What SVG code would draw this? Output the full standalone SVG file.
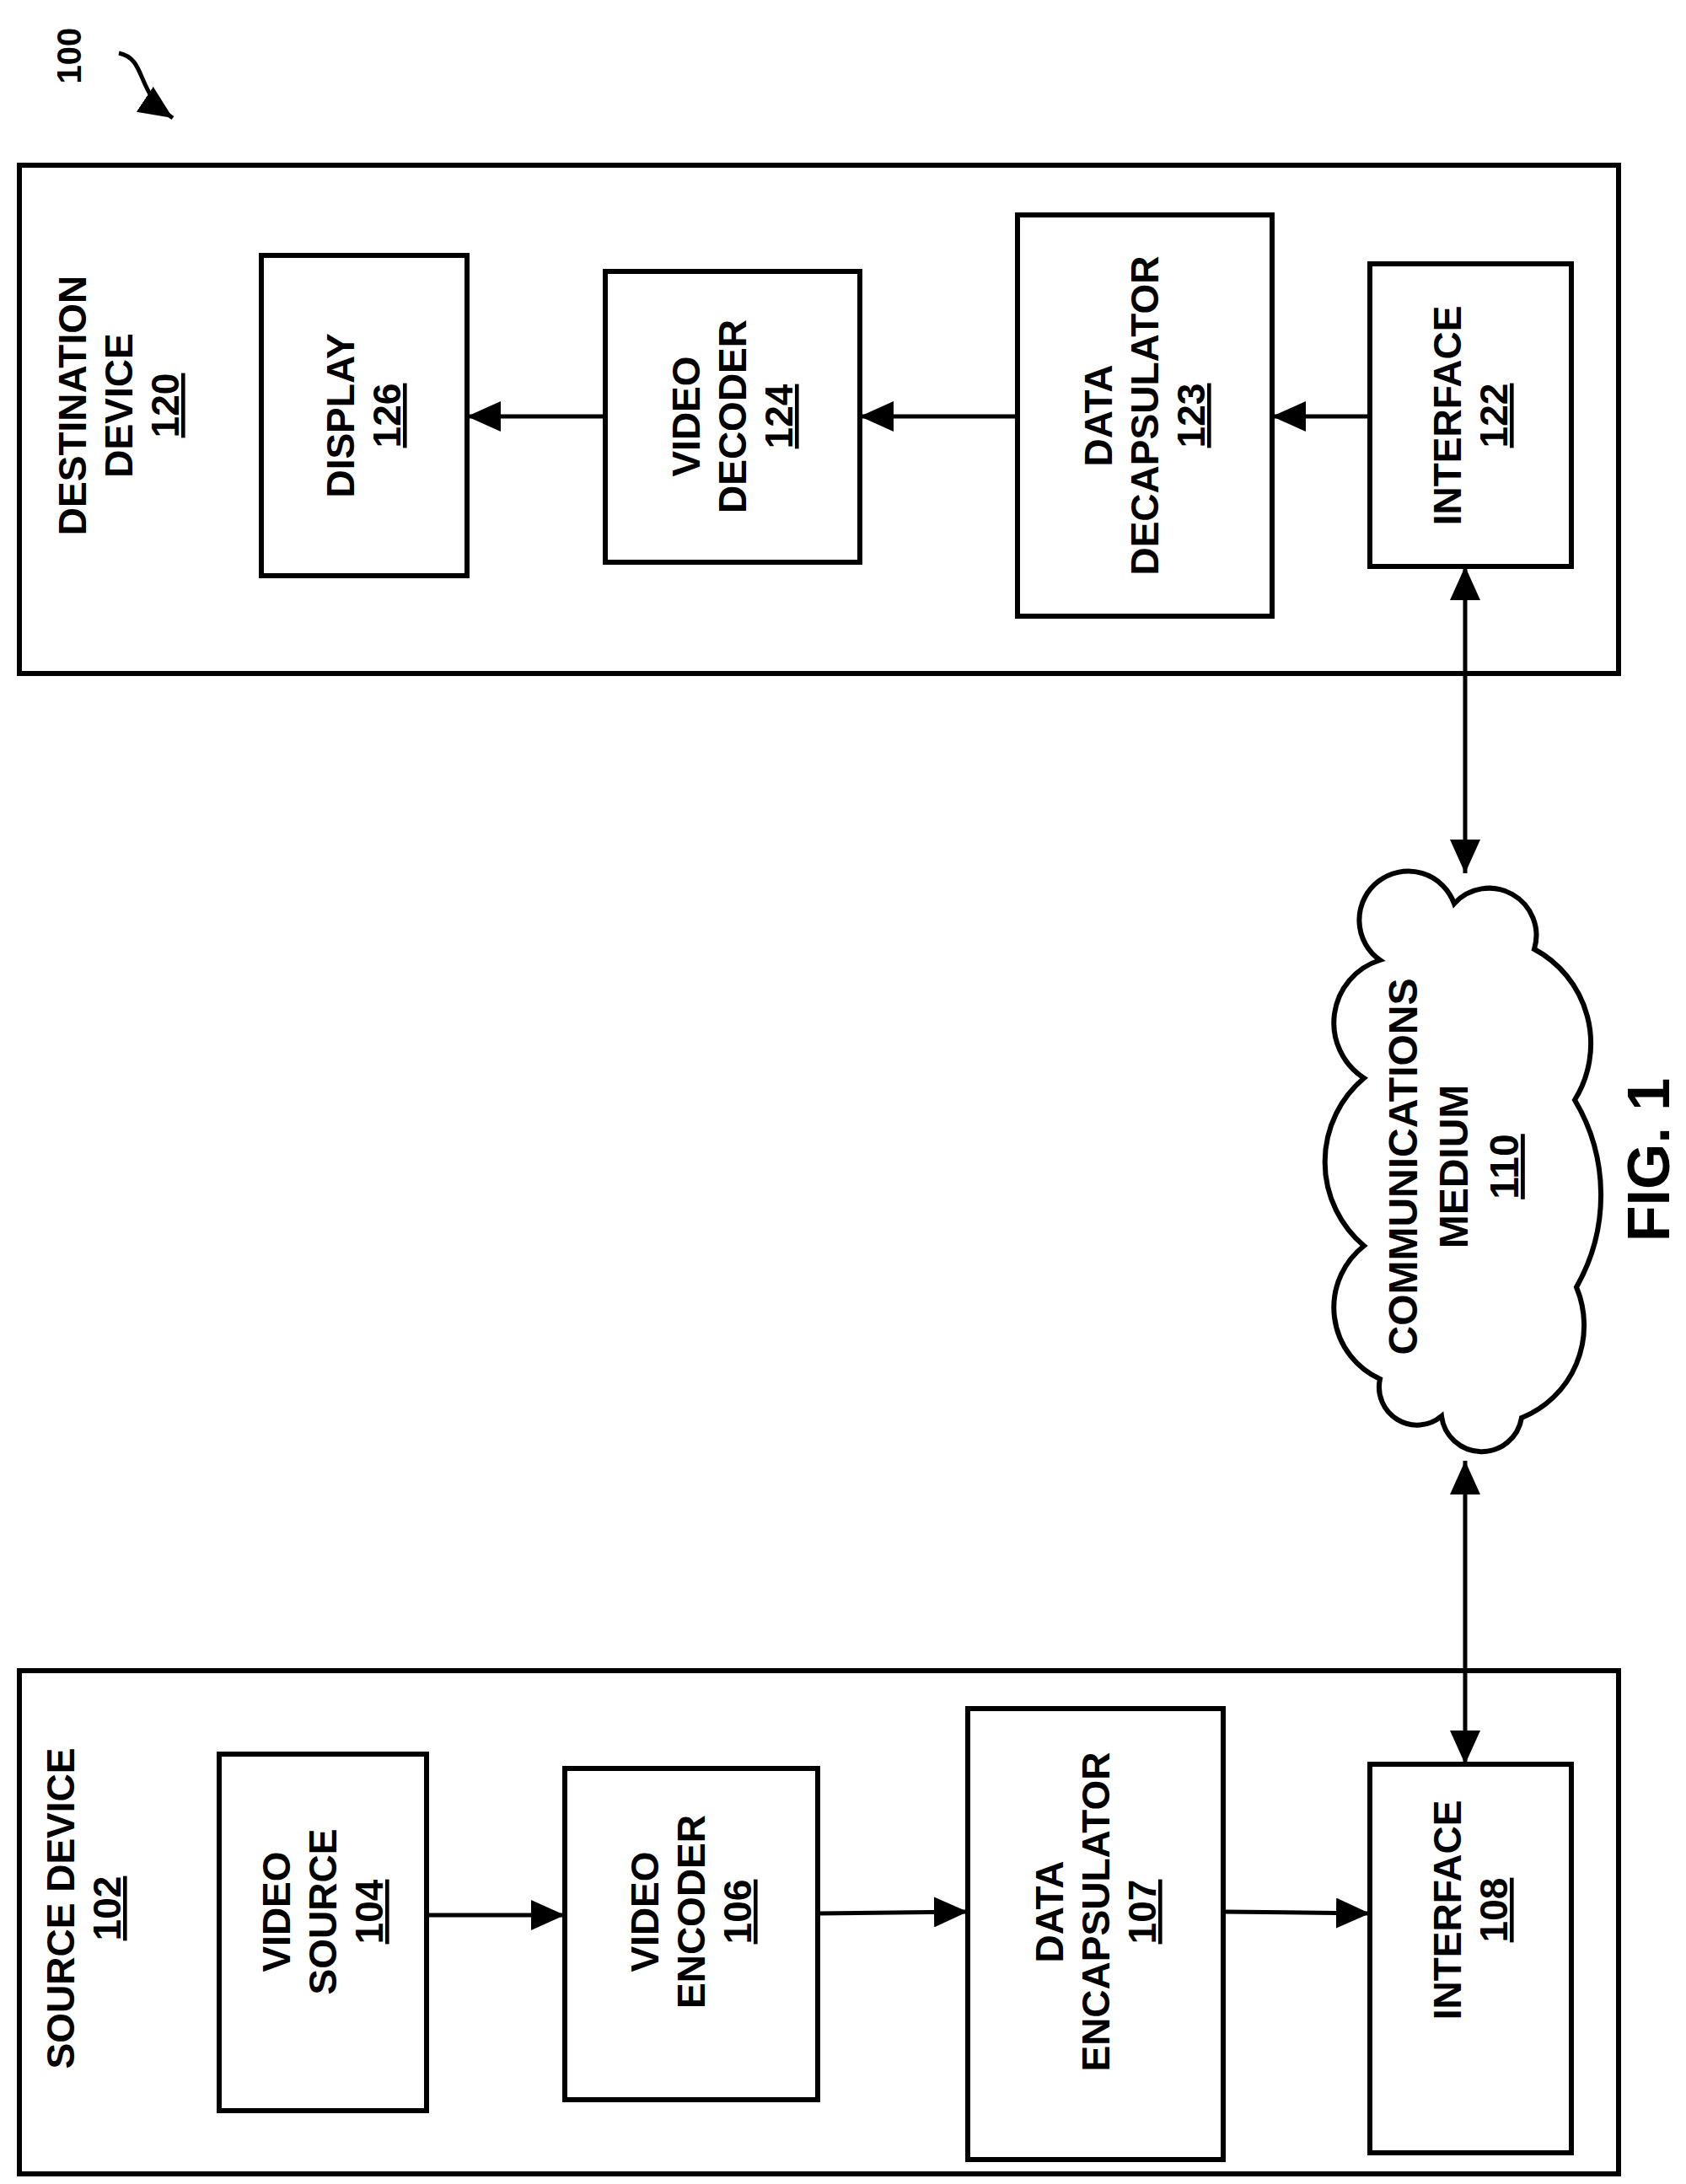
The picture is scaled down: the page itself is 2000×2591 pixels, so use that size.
<svg xmlns="http://www.w3.org/2000/svg" width="2000" height="2591" viewBox="0 0 2000 2591">
<style>
.box{fill:#fff;stroke:#000;stroke-width:6}
.t{font-family:"Liberation Sans",Arial,sans-serif;font-weight:bold;font-size:46px;text-anchor:middle;fill:#000}
.c{stroke:#000;stroke-width:5;fill:none}
</style>
<defs>
<marker id="a" viewBox="0 0 40 36" refX="40" refY="18" markerWidth="40" markerHeight="36" orient="auto-start-reverse" markerUnits="userSpaceOnUse">
<path d="M0,0 L40,18 L0,36 z" fill="#000"/>
</marker>
</defs>
<g id="ref100">
<text class="t" transform="translate(96,66) rotate(-90)" style="font-size:40px">100</text>
<path class="c" d="M141,63 C175,70 160,110 205,140" stroke-width="4" marker-end="url(#a)"/>
</g>
<g id="dest120">
<rect class="box" x="23" y="196" width="1897" height="603"/>
<text class="t" transform="translate(141,481) rotate(-90)"><tspan x="0" y="-39">DESTINATION</tspan><tspan x="0" dy="55">DEVICE</tspan><tspan x="0" dy="55" text-decoration="underline">120</tspan></text>
</g>
<g id="display126">
<rect class="box" x="310" y="303" width="244" height="380"/>
<text class="t" transform="translate(432,493) rotate(-90)"><tspan x="0" y="-12">DISPLAY</tspan><tspan x="0" dy="55" text-decoration="underline">126</tspan></text>
</g>
<g id="decoder124">
<rect class="box" x="718" y="322" width="302" height="345"/>
<text class="t" transform="translate(869,494) rotate(-90)"><tspan x="0" y="-39">VIDEO</tspan><tspan x="0" dy="55">DECODER</tspan><tspan x="0" dy="55" text-decoration="underline">124</tspan></text>
</g>
<g id="decap123">
<rect class="box" x="1207" y="255" width="302" height="476"/>
<text class="t" transform="translate(1358,493) rotate(-90)"><tspan x="0" y="-39">DATA</tspan><tspan x="0" dy="55">DECAPSULATOR</tspan><tspan x="0" dy="55" text-decoration="underline">123</tspan></text>
</g>
<g id="iface122">
<rect class="box" x="1625" y="313" width="239" height="359"/>
<text class="t" transform="translate(1745,493) rotate(-90)"><tspan x="0" y="-12">INTERFACE</tspan><tspan x="0" dy="55" text-decoration="underline">122</tspan></text>
</g>
<g id="src102">
<rect class="box" x="23" y="1982" width="1897" height="597"/>
<text class="t" transform="translate(100,2264) rotate(-90)"><tspan x="0" y="-12">SOURCE DEVICE</tspan><tspan x="0" dy="55" text-decoration="underline">102</tspan></text>
</g>
<g id="vsrc104">
<rect class="box" x="260" y="2081" width="246" height="423"/>
<text class="t" transform="translate(383,2268) rotate(-90)"><tspan x="0" y="-39">VIDEO</tspan><tspan x="0" dy="55">SOURCE</tspan><tspan x="0" dy="55" text-decoration="underline">104</tspan></text>
</g>
<g id="enc106">
<rect class="box" x="670" y="2098" width="300" height="393"/>
<text class="t" transform="translate(820,2268) rotate(-90)"><tspan x="0" y="-39">VIDEO</tspan><tspan x="0" dy="55">ENCODER</tspan><tspan x="0" dy="55" text-decoration="underline">106</tspan></text>
</g>
<g id="encap107">
<rect class="box" x="1148" y="2027" width="303" height="535"/>
<text class="t" transform="translate(1300,2268) rotate(-90)"><tspan x="0" y="-39">DATA</tspan><tspan x="0" dy="55">ENCAPSULATOR</tspan><tspan x="0" dy="55" text-decoration="underline">107</tspan></text>
</g>
<g id="iface108">
<rect class="box" x="1625" y="2093" width="239" height="461"/>
<text class="t" transform="translate(1745,2266) rotate(-90)"><tspan x="0" y="-12">INTERFACE</tspan><tspan x="0" dy="55" text-decoration="underline">108</tspan></text>
</g>
<g id="medium110">
<path class="box" d="M1725,1072 A58,58 0 1 0 1637,1139 A78,78 0 0 0 1618,1279 A130,130 0 0 0 1618,1478 A93,93 0 0 0 1637,1636 A45,45 0 0 0 1710,1680 A48,48 0 0 0 1805,1682 A118,118 0 0 0 1870,1527 A220,220 0 0 0 1868,1305 A127,127 0 0 0 1820,1126 A56,56 0 0 0 1725,1072 Z"/>
<text class="t" transform="translate(1720,1384) rotate(-90)" style="font-family:'Liberation Sans Narrow','Liberation Sans',sans-serif;font-size:48px"><tspan x="0" y="-39">COMMUNICATIONS</tspan><tspan x="0" dy="60">MEDIUM</tspan><tspan x="0" dy="60" text-decoration="underline">110</tspan></text>
</g>
<g id="fig">
<text class="t" transform="translate(1980,1376) rotate(-90)" style="font-size:70px">FIG. 1</text>
</g>
<g id="connectors">
<line class="c" x1="718" y1="494" x2="554" y2="494" marker-end="url(#a)"/>
<line class="c" x1="1207" y1="494" x2="1020" y2="494" marker-end="url(#a)"/>
<line class="c" x1="1625" y1="494" x2="1509" y2="494" marker-end="url(#a)"/>
<line class="c" x1="1738" y1="672" x2="1738" y2="1036" marker-start="url(#a)" marker-end="url(#a)"/>
<line class="c" x1="1738" y1="1733" x2="1738" y2="2093" marker-start="url(#a)" marker-end="url(#a)"/>
<line class="c" x1="506" y1="2272" x2="670" y2="2272" marker-end="url(#a)"/>
<line class="c" x1="970" y1="2270" x2="1148" y2="2268" marker-end="url(#a)"/>
<line class="c" x1="1451" y1="2268" x2="1625" y2="2270" marker-end="url(#a)"/>
</g>
</svg>
